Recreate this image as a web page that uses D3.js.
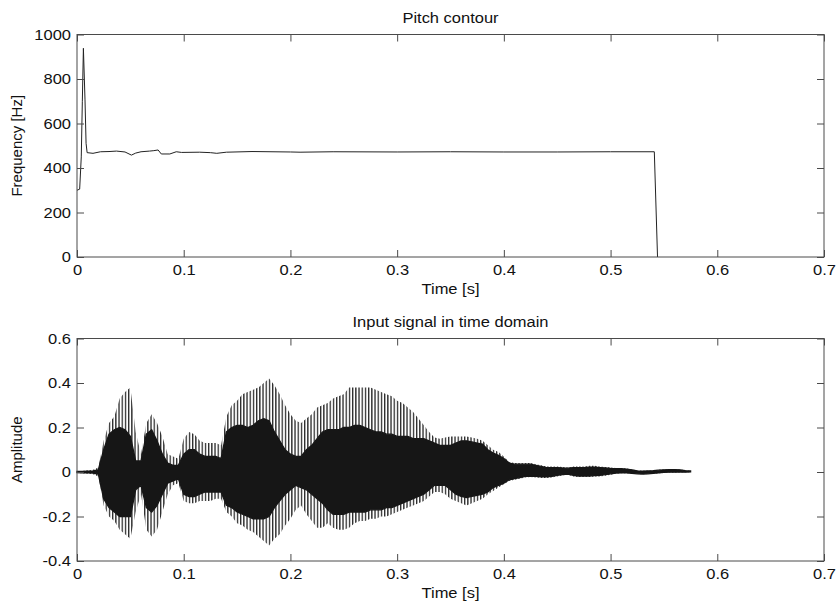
<!DOCTYPE html>
<html><head><meta charset="utf-8">
<script src="https://cdn.jsdelivr.net/npm/d3@7"></script>
<style>
body{margin:0;background:#fff}
text{font-family:"Liberation Sans",Arial,Helvetica,sans-serif;fill:#111}
</style>
</head><body>
<svg id="c" width="836" height="604"></svg>
<script>
// ---------- data ----------
const xTicks = [0, 0.1, 0.2, 0.3, 0.4, 0.5, 0.6, 0.7];
const xTickLabels = ["0", "0.1", "0.2", "0.3", "0.4", "0.5", "0.6", "0.7"];
const pitchTicks = [0, 200, 400, 600, 800, 1000];
const pitchTickLabels = ["0", "200", "400", "600", "800", "1000"];
const ampTicks = [-0.4, -0.2, 0, 0.2, 0.4, 0.6];
const ampTickLabels = ["-0.4", "-0.2", "0", "0.2", "0.4", "0.6"];

const pitchTime = [0, 0.0025, 0.004, 0.005, 0.006, 0.0075, 0.0085, 0.0095, 0.015, 0.022, 0.03, 0.037, 0.045, 0.051, 0.055, 0.06, 0.068, 0.072, 0.076, 0.079, 0.087, 0.093, 0.098, 0.115, 0.125, 0.131, 0.14, 0.164, 0.2, 0.209, 0.24, 0.3, 0.35, 0.4, 0.45, 0.5, 0.541, 0.544];
const pitchHz = [300, 305, 450, 700, 938, 706, 511, 469, 466, 473, 474, 476, 472, 458, 467, 473, 476, 478, 481, 463, 463, 473, 470, 471, 469, 466, 471, 474, 472, 471, 473, 472, 473, 472, 472, 473, 473, 0];

const sigTime = [0, 0.005, 0.01, 0.015, 0.02, 0.025, 0.03, 0.035, 0.04, 0.045,
  0.05, 0.055, 0.06, 0.065, 0.07, 0.075, 0.08, 0.085, 0.09, 0.095,
  0.1, 0.105, 0.11, 0.115, 0.12, 0.125, 0.13, 0.135, 0.14, 0.145,
  0.15, 0.155, 0.16, 0.165, 0.17, 0.175, 0.18, 0.185, 0.19, 0.195,
  0.2, 0.205, 0.21, 0.215, 0.22, 0.225, 0.23, 0.235, 0.24, 0.245,
  0.25, 0.255, 0.26, 0.265, 0.27, 0.275, 0.28, 0.285, 0.29, 0.295,
  0.3, 0.305, 0.31, 0.315, 0.32, 0.325, 0.33, 0.335, 0.34, 0.345,
  0.35, 0.355, 0.36, 0.365, 0.37, 0.375, 0.38, 0.385, 0.39, 0.395,
  0.4, 0.405, 0.41, 0.415, 0.42, 0.425, 0.43, 0.435, 0.44, 0.445,
  0.45, 0.455, 0.46, 0.465, 0.47, 0.475, 0.48, 0.485, 0.49, 0.495,
  0.5, 0.505, 0.51, 0.515, 0.52, 0.525, 0.53, 0.535, 0.54, 0.545,
  0.55, 0.555, 0.56, 0.565, 0.57, 0.575];
// outer spike envelope (max)
const sigOuterMax = [0.005, 0.005, 0.008, 0.01, 0.02, 0.14, 0.22, 0.25, 0.33, 0.36,
  0.38, 0.18, 0.08, 0.22, 0.26, 0.22, 0.16, 0.08, 0.07, 0.06,
  0.15, 0.18, 0.17, 0.14, 0.13, 0.13, 0.13, 0.12, 0.25, 0.30,
  0.32, 0.35, 0.36, 0.37, 0.38, 0.40, 0.42, 0.39, 0.35, 0.30,
  0.26, 0.23, 0.22, 0.24, 0.26, 0.29, 0.30, 0.31, 0.33, 0.34,
  0.35, 0.38, 0.38, 0.38, 0.38, 0.38, 0.37, 0.36, 0.35, 0.34,
  0.32, 0.31, 0.29, 0.27, 0.24, 0.21, 0.18, 0.155, 0.15, 0.155,
  0.16, 0.16, 0.16, 0.16, 0.155, 0.15, 0.14, 0.12, 0.10, 0.09,
  0.07, 0.045, 0.04, 0.04, 0.04, 0.04, 0.035, 0.03, 0.025, 0.025,
  0.025, 0.022, 0.02, 0.025, 0.025, 0.025, 0.028, 0.028, 0.025, 0.022,
  0.02, 0.018, 0.018, 0.016, 0.012, 0.007, 0.006, 0.007, 0.008, 0.01,
  0.012, 0.013, 0.013, 0.012, 0.008, 0.006];
// dense core envelope (max)
const sigCoreMax = [0.003, 0.003, 0.004, 0.005, 0.01, 0.10, 0.17, 0.19, 0.20, 0.19,
  0.16, 0.05, 0.05, 0.17, 0.19, 0.14, 0.08, 0.04, 0.03, 0.03,
  0.08, 0.10, 0.10, 0.08, 0.07, 0.07, 0.07, 0.06, 0.18, 0.20,
  0.21, 0.21, 0.20, 0.21, 0.23, 0.24, 0.23, 0.18, 0.14, 0.10,
  0.08, 0.07, 0.07, 0.10, 0.12, 0.15, 0.18, 0.19, 0.19, 0.19,
  0.20, 0.20, 0.21, 0.21, 0.20, 0.19, 0.18, 0.18, 0.17, 0.17,
  0.16, 0.16, 0.16, 0.15, 0.15, 0.15, 0.14, 0.13, 0.12, 0.12,
  0.12, 0.13, 0.14, 0.14, 0.135, 0.13, 0.125, 0.10, 0.085, 0.075,
  0.06, 0.04, 0.035, 0.035, 0.035, 0.035, 0.03, 0.025, 0.02, 0.02,
  0.02, 0.018, 0.017, 0.02, 0.02, 0.02, 0.022, 0.022, 0.02, 0.018,
  0.016, 0.015, 0.015, 0.013, 0.01, 0.005, 0.004, 0.005, 0.006, 0.008,
  0.01, 0.011, 0.011, 0.01, 0.006, 0.005];
// dense core envelope (min)
const sigCoreMin = [-0.003, -0.004, -0.004, -0.005, -0.01, -0.12, -0.16, -0.18, -0.20, -0.20,
  -0.20, -0.08, -0.06, -0.16, -0.18, -0.15, -0.10, -0.05, -0.04, -0.03,
  -0.10, -0.11, -0.11, -0.10, -0.09, -0.09, -0.09, -0.09, -0.15, -0.16,
  -0.18, -0.19, -0.20, -0.21, -0.21, -0.21, -0.20, -0.16, -0.13, -0.10,
  -0.08, -0.06, -0.07, -0.08, -0.10, -0.12, -0.14, -0.17, -0.19, -0.19,
  -0.19, -0.18, -0.18, -0.18, -0.18, -0.17, -0.17, -0.17, -0.16, -0.16,
  -0.15, -0.14, -0.13, -0.12, -0.11, -0.10, -0.08, -0.06, -0.06, -0.06,
  -0.08, -0.10, -0.11, -0.115, -0.11, -0.105, -0.10, -0.09, -0.07, -0.06,
  -0.05, -0.035, -0.03, -0.025, -0.02, -0.02, -0.02, -0.022, -0.022, -0.02,
  -0.015, -0.012, -0.01, -0.015, -0.018, -0.018, -0.018, -0.016, -0.015, -0.012,
  -0.008, -0.005, -0.004, -0.004, -0.006, -0.008, -0.009, -0.008, -0.006, -0.004,
  -0.002, -0.001, -0.001, 0.0, -0.001, 0.0];
// outer spike envelope (min)
const sigOuterMin = [-0.005, -0.006, -0.008, -0.01, -0.02, -0.15, -0.20, -0.22, -0.26, -0.28,
  -0.30, -0.18, -0.10, -0.26, -0.29, -0.26, -0.18, -0.10, -0.06, -0.05,
  -0.13, -0.14, -0.14, -0.13, -0.13, -0.13, -0.12, -0.12, -0.18, -0.20,
  -0.23, -0.24, -0.26, -0.27, -0.29, -0.31, -0.33, -0.30, -0.28, -0.24,
  -0.21, -0.17, -0.15, -0.19, -0.22, -0.25, -0.25, -0.23, -0.25, -0.26,
  -0.26, -0.25, -0.23, -0.22, -0.22, -0.21, -0.21, -0.20, -0.20, -0.19,
  -0.18, -0.17, -0.16, -0.15, -0.14, -0.13, -0.11, -0.09, -0.09, -0.10,
  -0.12, -0.13, -0.14, -0.15, -0.14, -0.13, -0.12, -0.10, -0.085, -0.07,
  -0.055, -0.04, -0.035, -0.03, -0.025, -0.022, -0.025, -0.027, -0.027, -0.025,
  -0.02, -0.015, -0.012, -0.02, -0.022, -0.022, -0.022, -0.02, -0.02, -0.017,
  -0.012, -0.008, -0.006, -0.006, -0.008, -0.009, -0.01, -0.009, -0.008, -0.006,
  -0.004, -0.003, -0.003, -0.002, -0.002, -0.001];

// ---------- layout ----------
const svg = d3.select("#c");
const L = 77, R = 824;
const top1 = 34.5, bot1 = 257;
const top2 = 338.5, bot2 = 561;
const FS = 15;
const SX = 1.1; // horizontal stretch of horizontal text (matches reference glyph widths)
const axisCol = "#4a4a4a";

const x = d3.scaleLinear().domain([0, 0.7]).range([L, R]);
const y1 = d3.scaleLinear().domain([0, 1000]).range([bot1, top1]);
const y2 = d3.scaleLinear().domain([-0.4, 0.6]).range([bot2, top2]);

// stripe pattern for the spike bands
const defs = svg.append("defs");
const pat = defs.append("pattern").attr("id", "spikes")
  .attr("patternUnits", "userSpaceOnUse").attr("width", 3.2).attr("height", 8);
pat.append("rect").attr("x", 0).attr("y", 0).attr("width", 1.3).attr("height", 8).attr("fill", "#262626");

function styleText(sel) {
  sel.style("font-size", FS + "px").attr("fill", "#111")
    .style("font-family", '"Liberation Sans", Arial, sans-serif');
}

function drawAxes(yScale, yTop, yBot, yVals, yLabs, title, ylabel) {
  const g = svg.append("g");
  const ab = g.append("g").attr("transform", `translate(0,${yBot})`)
    .call(d3.axisBottom(x).tickValues(xTicks).tickFormat((d, i) => xTickLabels[i])
      .tickSizeInner(-7).tickSizeOuter(0).tickPadding(7));
  const at = g.append("g").attr("transform", `translate(0,${yTop})`)
    .call(d3.axisTop(x).tickValues(xTicks).tickFormat("").tickSizeInner(-7).tickSizeOuter(0));
  const al = g.append("g").attr("transform", `translate(${L},0)`)
    .call(d3.axisLeft(yScale).tickValues(yVals).tickFormat((d, i) => yLabs[i])
      .tickSizeInner(-7).tickSizeOuter(0).tickPadding(6));
  const ar = g.append("g").attr("transform", `translate(${R},0)`)
    .call(d3.axisRight(yScale).tickValues(yVals).tickFormat("").tickSizeInner(-7).tickSizeOuter(0));
  [ab, at, al, ar].forEach(a => {
    a.select(".domain").remove();
    a.selectAll("line").attr("stroke", axisCol);
    styleText(a.selectAll("text"));
  });
  ab.selectAll("text").attr("transform", `scale(${SX},1)`);
  al.selectAll("text").attr("x", -6 / SX).attr("transform", `scale(${SX},1)`);
  g.append("rect").attr("x", L).attr("y", yTop).attr("width", R - L).attr("height", yBot - yTop)
    .attr("fill", "none").attr("stroke", axisCol).attr("stroke-width", 1);
  styleText(g.append("text").attr("transform", `translate(${(L + R) / 2},${yTop - 12}) scale(${SX},1)`)
    .attr("text-anchor", "middle").text(title));
  styleText(g.append("text").attr("transform", `translate(${(L + R) / 2},${yBot + 37}) scale(${SX},1)`)
    .attr("text-anchor", "middle").text("Time [s]"));
  styleText(g.append("text").attr("transform", `translate(22,${(yTop + yBot) / 2}) rotate(-90)`)
    .attr("text-anchor", "middle").text(ylabel));
}

// ---------- top: pitch contour ----------
const pitchData = pitchTime.map((t, i) => ({ t, v: pitchHz[i] }));
svg.append("path").datum(pitchData)
  .attr("d", d3.line().x(d => x(d.t)).y(d => y1(d.v)))
  .attr("fill", "none").attr("stroke", "#222").attr("stroke-width", 1);
drawAxes(y1, top1, bot1, pitchTicks, pitchTickLabels, "Pitch contour", "Frequency [Hz]");

// ---------- bottom: signal ----------
const sig = sigTime.map((t, i) => ({ t, oMax: sigOuterMax[i], cMax: sigCoreMax[i], cMin: sigCoreMin[i], oMin: sigOuterMin[i] }));
svg.append("path").datum(sig)
  .attr("d", d3.area().x(d => x(d.t)).y0(d => y2(d.cMax)).y1(d => y2(d.oMax)))
  .attr("fill", "url(#spikes)");
svg.append("path").datum(sig)
  .attr("d", d3.area().x(d => x(d.t)).y0(d => y2(d.oMin)).y1(d => y2(d.cMin)))
  .attr("fill", "url(#spikes)");
svg.append("path").datum(sig)
  .attr("d", d3.area().x(d => x(d.t)).y0(d => y2(d.cMin)).y1(d => y2(d.cMax)))
  .attr("fill", "#161616").attr("stroke", "#161616").attr("stroke-width", 1.3);
drawAxes(y2, top2, bot2, ampTicks, ampTickLabels, "Input signal in time domain", "Amplitude");
</script>
</body></html>
